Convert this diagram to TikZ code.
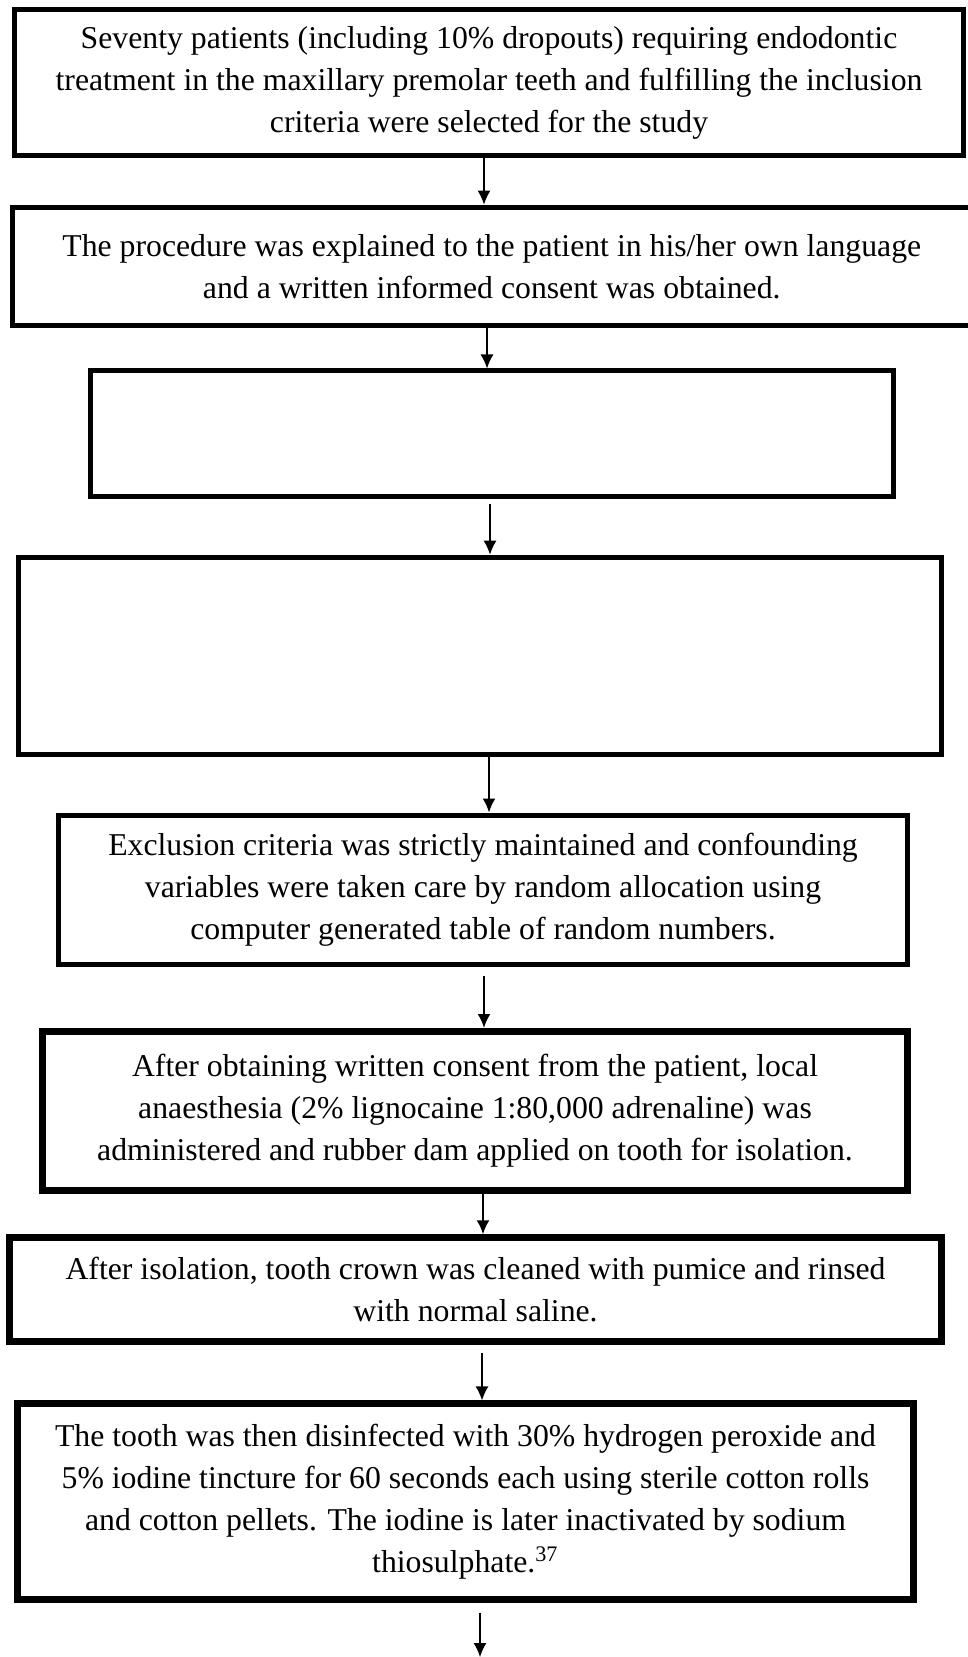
\documentclass[tikz,border=0pt]{standalone}
\usepackage{fontspec}
\setmainfont{Liberation Serif}
\usetikzlibrary{arrows.meta}

\begin{document}
\begin{tikzpicture}[x=0.4pt,y=-0.4pt,
  stage/.style={draw,rectangle,line width=2.3pt,align=center,inner sep=0pt,
    font=\fontsize{12.7}{16.8}\selectfont},
  flow/.style={-{Latex[length=5.6pt,width=5.2pt]},line width=0.55pt},
  boldflow/.style={flow,line width=0.95pt}]
  \useasboundingbox (0,0) rectangle (967,1657);

  \node[stage,minimum width=379.6pt,minimum height=58.4pt] (select) at (489,82.5)
    {Seventy patients (including 10\% dropouts) requiring endodontic\\
     treatment in the maxillary premolar teeth and fulfilling the inclusion\\
     criteria were selected for the study};
  \node[stage,minimum width=383.4pt,minimum height=47.2pt] (consent) at (491.75,266.5)
    {The procedure was explained to the patient in his/her own language\\
     and a written informed consent was obtained.};
  \node[stage,line width=2pt,minimum width=320.8pt,minimum height=50pt] (emptyA) at (492,433.5) {};
  \node[stage,minimum width=369.2pt,minimum height=78.8pt] (emptyB) at (480,656) {};
  \node[stage,minimum width=339.6pt,minimum height=59.6pt] (exclude) at (483,890)
    {Exclusion criteria was strictly maintained and confounding\\
     variables were taken care by random allocation using\\
     computer generated table of random numbers.};
  \node[stage,line width=2.8pt,minimum width=346pt,minimum height=63.6pt] (anaes) at (475,1111)
    {After obtaining written consent from the patient, local\\
     anaesthesia (2\% lignocaine 1:80,000 adrenaline) was\\
     administered and rubber dam applied on tooth for isolation.};
  \node[stage,line width=2.5pt,minimum width=372.8pt,minimum height=41.6pt] (clean) at (475.5,1289.5)
    {After isolation, tooth crown was cleaned with pumice and rinsed\\
     with normal saline.};
  \node[stage,line width=2.5pt,minimum width=358.4pt,minimum height=78.4pt] (disinf) at (465.5,1501.5)
    {The tooth was then disinfected with 30\% hydrogen peroxide and\\
     5\% iodine tincture for 60 seconds each using sterile cotton rolls\\
     and cotton pellets. The iodine is later inactivated by sodium\\
     thiosulphate.\textsuperscript{37}};

  % arrow columns
  \coordinate (c1) at (484,0);
  \coordinate (c2) at (487,0);
  \coordinate (c3) at (490,0);
  \coordinate (c4) at (489,0);
  \coordinate (c5) at (484,0);
  \coordinate (c6) at (483,0);
  \coordinate (c7) at (482,0);
  \coordinate (c8) at (480,0);
  \coordinate (next) at (480,1657);

  \draw[flow] (select.south -| c1) -- (consent.north -| c1);
  \draw[flow] (consent.south -| c2) -- (emptyA.north -| c2);
  \draw[flow,shorten <=2pt] (emptyA.south -| c3) -- (emptyB.north -| c3);
  \draw[boldflow] (emptyB.south -| c4) -- (exclude.north -| c4);
  \draw[boldflow,shorten <=3.5pt] (exclude.south -| c5) -- (anaes.north -| c5);
  \draw[boldflow] (anaes.south -| c6) -- (clean.north -| c6);
  \draw[flow,shorten <=3.5pt] (clean.south -| c7) -- (disinf.north -| c7);
  \draw[flow,shorten <=4pt] (disinf.south -| c8) -- (next);

\end{tikzpicture}
\end{document}
